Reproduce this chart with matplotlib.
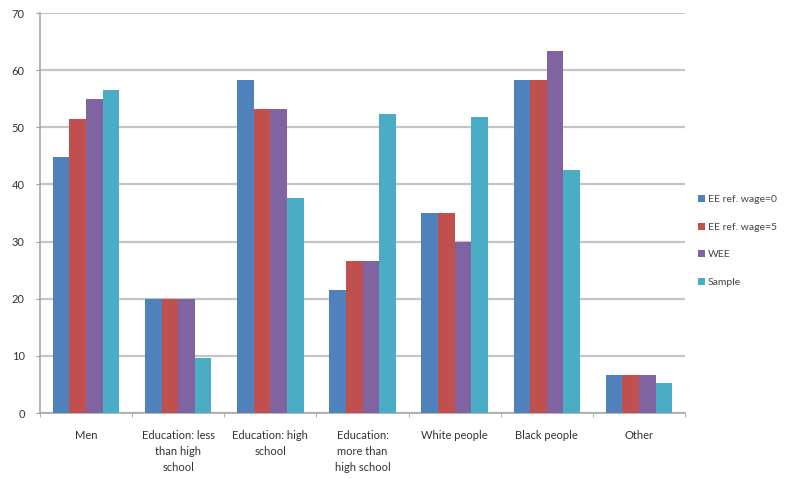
import matplotlib.pyplot as plt
import numpy as np

categories = ["Men", "Education: less\nthan high\nschool", "Education: high\nschool",
              "Education:\nmore than\nhigh school", "White people", "Black people", "Other"]
ee_wage0 = [44.8, 20.0, 58.2, 21.6, 35.0, 58.2, 6.7]
ee_wage5 = [51.5, 20.0, 53.2, 26.6, 35.0, 58.2, 6.7]
wee = [55.0, 20.0, 53.2, 26.6, 30.0, 63.3, 6.7]
sample = [56.5, 9.7, 37.7, 52.4, 51.8, 42.6, 5.3]

series = [("EE ref. wage=0", ee_wage0, "#4F81BD"),
          ("EE ref. wage=5", ee_wage5, "#C0504D"),
          ("WEE", wee, "#8064A2"),
          ("Sample", sample, "#4BACC6")]

plt.rcParams['font.family'] = ['Lato', 'DejaVu Sans']

fig = plt.figure(figsize=(8.11, 4.79), dpi=100)
ax = fig.add_axes([40 / 811, 66 / 479, 645 / 811, 400 / 479])

x = np.arange(len(categories))
w = 0.18
for i, (name, vals, col) in enumerate(series):
    ax.bar(x + (i - 1.5) * w, vals, width=w, color=col, label=name, zorder=3)

ax.set_xlim(-0.5, len(categories) - 0.5)
ax.set_ylim(0, 70)
ax.set_yticks(range(0, 71, 10))
ax.yaxis.grid(True, color="#C4C4C4", linewidth=1.6, zorder=0)

ax.set_xticks(x)
ax.set_xticklabels(categories, fontsize=8, color="#333333", linespacing=1.55)
ax.set_xticks(np.arange(-0.5, len(categories)), minor=True)
ax.tick_params(axis="x", which="major", length=0, pad=12)
ax.tick_params(axis="x", which="minor", length=3, color="#A0A0A0")
ax.tick_params(axis="y", length=3, color="#A0A0A0", labelsize=8, labelcolor="#333333", pad=8)

for s in ["top", "right"]:
    ax.spines[s].set_visible(False)
for s in ["left", "bottom"]:
    ax.spines[s].set_color("#A8A8A8")
    ax.spines[s].set_linewidth(1.2)

ax.legend(loc="center left", bbox_to_anchor=(1.005, 0.43), frameon=False,
          fontsize=7.5, handlelength=0.7, handleheight=0.7, handletextpad=0.3,
          labelspacing=1.75, labelcolor="#444444")

fig.savefig("out.png", dpi=100)
